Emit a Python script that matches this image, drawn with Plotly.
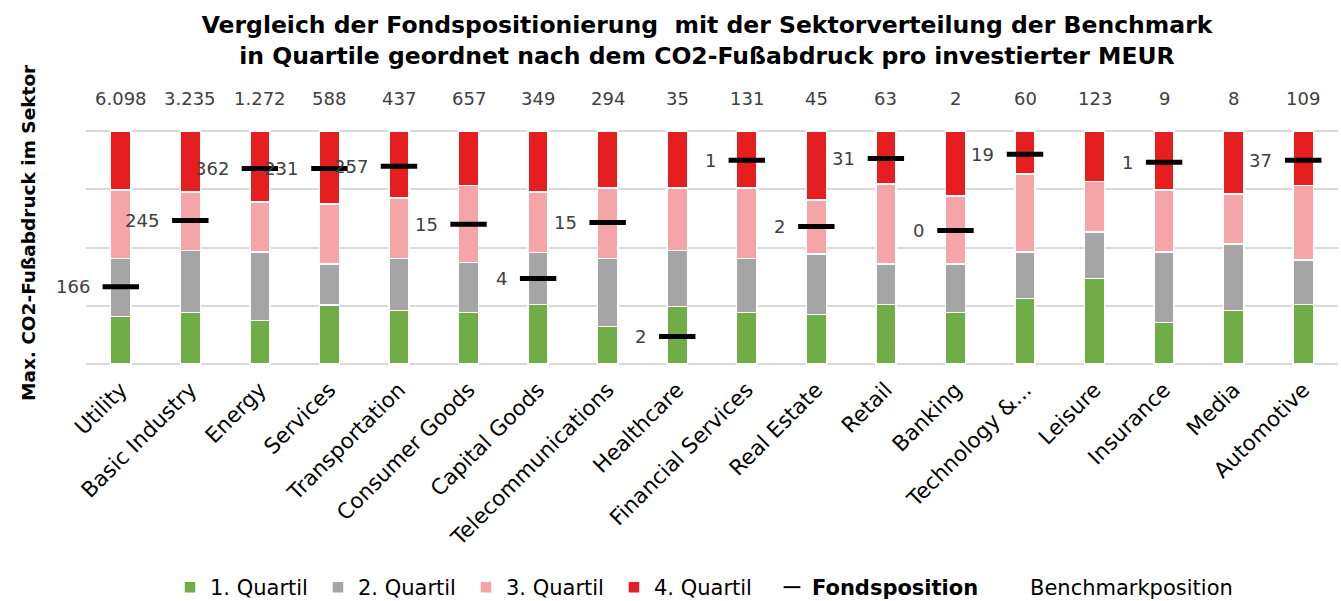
import plotly.graph_objects as go

categories = ["Utility", "Basic Industry", "Energy", "Services", "Transportation",
              "Consumer Goods", "Capital Goods", "Telecommunications", "Healthcare",
              "Financial Services", "Real Estate", "Retail", "Banking", "Technology &...",
              "Leisure", "Insurance", "Media", "Automotive"]

# share of each quartile in the benchmark sector (percent of bar height)
q1 = [20.4, 22.0, 18.7, 25.3, 22.9, 22.0, 25.5, 16.1, 24.7, 22.0, 21.2, 25.5, 22.0, 28.1, 36.7, 17.7, 23.0, 25.5]
q2 = [24.9, 26.8, 29.4, 17.6, 22.3, 21.6, 22.4, 29.2, 24.1, 23.3, 26.0, 17.4, 21.0, 20.0, 20.0, 30.4, 28.5, 19.1]
q3 = [29.5, 25.0, 21.5, 25.7, 26.0, 33.0, 25.9, 30.3, 26.8, 30.3, 23.3, 34.5, 29.2, 33.5, 21.6, 26.7, 21.6, 32.0]
q4 = [25.2, 26.2, 30.4, 31.4, 28.8, 23.4, 26.2, 24.4, 24.4, 24.4, 29.5, 22.6, 27.8, 18.4, 21.7, 25.2, 26.9, 23.4]

# fund position (percent height) and its CO2 footprint label
fund_pos = [33.1, 61.6, 84.0, 84.0, 84.9, 60.0, 36.7, 60.7, 11.7, 87.5, 59.0, 88.3, 57.3, 90.1, None, 86.6, None, 87.5]
fund_lbl = [166, 245, 362, 231, 257, 15, 4, 15, 2, 1, 2, 31, 0, 19, None, 1, None, 37]

# max CO2 footprint in sector
max_co2 = [6098, 3235, 1272, 588, 437, 657, 349, 294, 35, 131, 45, 63, 2, 60, 123, 9, 8, 109]

FONT = "DejaVu Sans, Verdana, sans-serif"
W, H = 1341, 601
ML, MR, MT, MB = 86, 3, 130, 236
PW, PH = W - ML - MR, H - MT - MB

def de_fmt(v):
    return f"{v:,}".replace(",", ".")

fig = go.Figure()
quartiles = [("1. Quartil", q1, "#70AD47"), ("2. Quartil", q2, "#A5A5A5"),
             ("3. Quartil", q3, "#F5A5A7"), ("4. Quartil", q4, "#E61E1F")]
for name, vals, col in quartiles:
    fig.add_trace(go.Bar(x=categories, y=vals, name=name, width=0.29, legend="legend",
                         marker=dict(color=col, line=dict(color="white", width=1.5)),
                         hoverinfo="skip"))

fig.add_trace(go.Scatter(x=categories, y=fund_pos, mode="markers", name="<b>Fondsposition</b>",
                         legend="legend2",
                         marker=dict(symbol="line-ew", size=26, color="black",
                                     line=dict(color="black", width=5)),
                         hoverinfo="skip"))
fig.add_trace(go.Scatter(x=[categories[0]], y=[None], mode="markers", name="Benchmarkposition",
                         legend="legend3",
                         marker=dict(color="rgba(0,0,0,0)", size=1), hoverinfo="skip"))

annotations = []
for c, v, l in zip(categories, fund_pos, fund_lbl):
    if v is None:
        continue
    annotations.append(dict(x=c, y=v, xref="x", yref="y", text=str(l), showarrow=False,
                            xanchor="right", yanchor="middle", xshift=-29,
                            font=dict(family=FONT, size=18, color="#404040")))
for c, m in zip(categories, max_co2):
    annotations.append(dict(x=c, y=100, xref="x", yref="y", text=de_fmt(m), showarrow=False,
                            xanchor="center", yanchor="middle", yshift=33,
                            font=dict(family=FONT, size=18, color="#404040")))
annotations.append(dict(x=(28 - ML) / PW, y=(H - MB - 233) / PH, xref="paper", yref="paper",
                        text="<b>Max. CO2-Fußabdruck im Sektor</b>", textangle=-90,
                        showarrow=False, xanchor="center", yanchor="middle",
                        font=dict(family=FONT, size=18.5, color="black")))

LEG_FONT = dict(family=FONT, size=21, color="black")
leg_common = dict(orientation="h", xref="container", yref="container",
                  xanchor="left", yanchor="top", y=1 - 567 / H,
                  font=LEG_FONT, bgcolor="rgba(0,0,0,0)", traceorder="normal")

fig.update_layout(
    width=W, height=H,
    barmode="stack",
    plot_bgcolor="white", paper_bgcolor="white",
    margin=dict(l=ML, r=MR, t=MT, b=MB, autoexpand=False),
    title=dict(text="<b>Vergleich der Fondspositionierung  mit der Sektorverteilung der Benchmark<br>"
                    "in Quartile geordnet nach dem CO2-Fußabdruck pro investierter MEUR</b>",
               x=707 / W, xanchor="center", y=1 - 33 / H, yanchor="middle",
               font=dict(family=FONT, size=23.5, color="black")),
    xaxis=dict(range=[-0.5, len(categories) - 0.5], tickangle=-45,
               tickfont=dict(family=FONT, size=21.5, color="black"), ticklabelstandoff=7,
               showgrid=False, showline=False, ticks="", automargin=False),
    yaxis=dict(range=[-0.5, 100.5], tickmode="array", tickvals=[0, 25, 50, 75, 100],
               showticklabels=False, showgrid=True, automargin=False,
               gridcolor="#D9D9D9", gridwidth=1.5, zeroline=False, showline=False),
    legend=dict(**leg_common, x=(210 - 40) / W, entrywidth=103),
    legend2=dict(**leg_common, x=(812 - 40) / W, itemsizing="constant"),
    legend3=dict(**leg_common, x=(1030 - 40) / W),
    annotations=annotations,
    showlegend=True,
)

fig.write_html("out.html", config={"displayModeBar": False},
               post_script="document.body.style.margin='0';")
